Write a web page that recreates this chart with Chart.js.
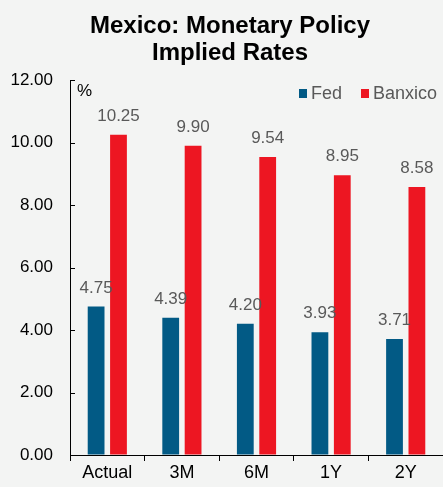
<!DOCTYPE html>
<html>
<head>
<meta charset="utf-8">
<script src="https://cdn.jsdelivr.net/npm/chart.js@4/dist/chart.umd.min.js"></script>
<style>
  html, body { margin: 0; padding: 0; background: #f3f4f3; }
  #wrap { width: 443px; height: 487px; }
</style>
</head>
<body>
<div id="wrap"><canvas id="barChart"></canvas></div>
<script>
var categories = ['Actual', '3M', '6M', '1Y', '2Y'];
var fedRates = [4.75, 4.39, 4.20, 3.93, 3.71];
var banxicoRates = [10.25, 9.90, 9.54, 8.95, 8.58];
var titleLines = ['Mexico: Monetary Policy', 'Implied Rates'];

var FONT = 'Arial, "Liberation Sans", sans-serif';

// value labels, title, legend and inward y ticks
var extras = {
    id: 'extras',
    afterDatasetsDraw: function (chart) {
        var c = chart.ctx;
        c.save();
        c.fillStyle = '#595959';
        c.font = '17px ' + FONT;
        c.textAlign = 'center';
        c.textBaseline = 'alphabetic';
        chart.data.datasets.forEach(function (ds, i) {
            chart.getDatasetMeta(i).data.forEach(function (bar, j) {
                c.fillText(ds.data[j].toFixed(2), bar.x, bar.y - 14);
            });
        });

        // title
        c.fillStyle = '#000';
        c.font = 'bold 24px ' + FONT;
        c.textBaseline = 'middle';
        c.fillText(titleLines[0], 230, 26);
        c.fillText(titleLines[1], 230, 53);

        // % unit
        c.font = '17px ' + FONT;
        c.textAlign = 'left';
        c.fillText('%', 77, 91);

        // legend
        var ly = 93;
        c.fillStyle = chart.data.datasets[0].backgroundColor;
        c.fillRect(299, ly - 4, 8, 9);
        c.fillStyle = chart.data.datasets[1].backgroundColor;
        c.fillRect(361, ly - 4, 8, 9);
        c.fillStyle = '#595959';
        c.font = '18px ' + FONT;
        c.fillText(chart.data.datasets[0].label, 311, ly + 1);
        c.fillText(chart.data.datasets[1].label, 373, ly + 1);

        // inward y ticks
        var y = chart.scales.y;
        c.strokeStyle = '#000';
        c.lineWidth = 1;
        y.ticks.forEach(function (t) {
            var py = Math.round(y.getPixelForValue(t.value)) + 0.5;
            c.beginPath();
            c.moveTo(y.right, py);
            c.lineTo(y.right + 5, py);
            c.stroke();
        });
        c.restore();
    }
};

var ctx = document.getElementById('barChart').getContext('2d');
var myChart = new Chart(ctx, {
    type: 'bar',
    data: {
        labels: categories,
        datasets: [{
            label: 'Fed',
            data: fedRates,
            backgroundColor: '#025a85'
        }, {
            label: 'Banxico',
            data: banxicoRates,
            backgroundColor: '#ed1622'
        }]
    },
    options: {
        responsive: true,
        maintainAspectRatio: false,
        animation: false,
        categoryPercentage: 0.6,
        barPercentage: 0.75,
        layout: { padding: { top: 80, right: 0, left: 0, bottom: 0 } },
        plugins: {
            legend: { display: false },
            title: { display: false },
            tooltip: { enabled: false }
        },
        scales: {
            x: {
                grid: { drawOnChartArea: false, color: '#000', tickLength: 6, offset: true },
                border: { color: '#000' },
                ticks: { color: '#000', font: { size: 18, family: FONT }, padding: 1 },
                afterFit: function (s) { s.height = 32; }
            },
            y: {
                min: 0,
                max: 12,
                afterFit: function (s) { s.width = 70; },
                grid: { drawOnChartArea: false, drawTicks: false },
                border: { color: '#000' },
                ticks: {
                    stepSize: 2,
                    color: '#000',
                    padding: 17,
                    font: { size: 17, family: FONT },
                    callback: function (v) { return v.toFixed(2); }
                }
            }
        }
    },
    plugins: [extras]
});
</script>
</body>
</html>
